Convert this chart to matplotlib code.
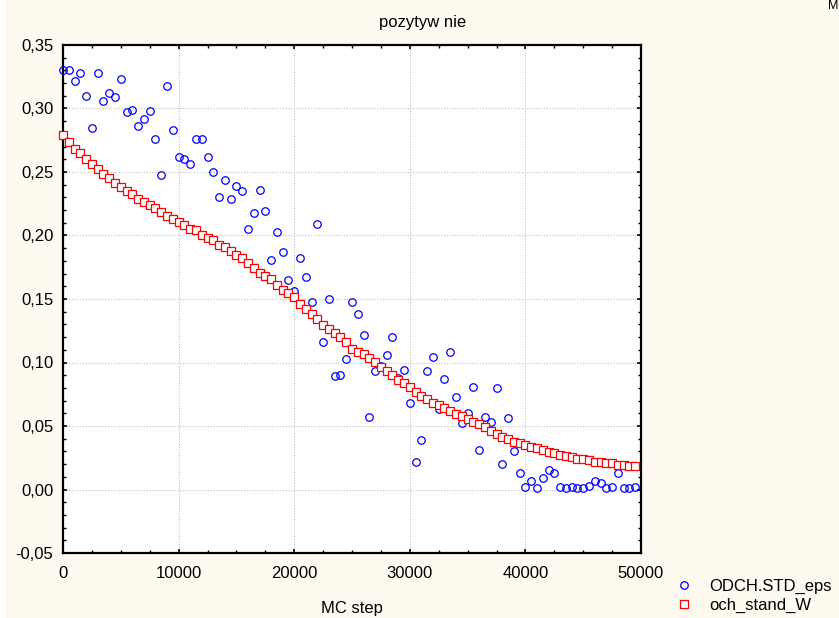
import numpy as np
import matplotlib
matplotlib.use("Agg")
import matplotlib.pyplot as plt
from matplotlib.ticker import MultipleLocator, FuncFormatter

plt.rcParams['font.family'] = ['Liberation Sans', 'DejaVu Sans']

# MC steps (sampled every 500 steps)
mc_step = np.arange(0, 50000, 500)

odch_std_eps = [
    0.330, 0.330, 0.322, 0.328, 0.310, 0.285, 0.328, 0.306, 0.312, 0.309,
    0.323, 0.297, 0.299, 0.286, 0.292, 0.298, 0.276, 0.248, 0.318, 0.283,
    0.262, 0.260, 0.256, 0.276, 0.276, 0.262, 0.250, 0.230, 0.244, 0.229,
    0.239, 0.235, 0.205, 0.218, 0.236, 0.219, 0.181, 0.203, 0.187, 0.165,
    0.156, 0.182, 0.167, 0.148, 0.209, 0.116, 0.150, 0.089, 0.090, 0.103,
    0.148, 0.138, 0.122, 0.057, 0.093, 0.097, 0.106, 0.120, 0.088, 0.094,
    0.068, 0.022, 0.039, 0.093, 0.104, 0.063, 0.087, 0.108, 0.073, 0.052,
    0.060, 0.081, 0.031, 0.057, 0.053, 0.080, 0.020, 0.056, 0.030, 0.013,
    0.002, 0.007, 0.001, 0.009, 0.015, 0.013, 0.002, 0.001, 0.002, 0.001,
    0.001, 0.003, 0.007, 0.005, 0.001, 0.002, 0.013, 0.001, 0.001, 0.002,
]

och_stand_w = [
    0.2790, 0.2735, 0.2685, 0.2650, 0.2600, 0.2560, 0.2523, 0.2486, 0.2450, 0.2413,
    0.2384, 0.2350, 0.2323, 0.2290, 0.2260, 0.2237, 0.2216, 0.2185, 0.2150, 0.2127,
    0.2103, 0.2080, 0.2053, 0.2040, 0.2006, 0.1977, 0.1962, 0.1925, 0.1912, 0.1875,
    0.1849, 0.1825, 0.1781, 0.1741, 0.1708, 0.1682, 0.1655, 0.1608, 0.1571, 0.1545,
    0.1513, 0.1458, 0.1423, 0.1385, 0.1345, 0.1299, 0.1267, 0.1231, 0.1197, 0.1159,
    0.1110, 0.1084, 0.1068, 0.1037, 0.1002, 0.0963, 0.0932, 0.0898, 0.0866, 0.0840,
    0.0806, 0.0767, 0.0735, 0.0709, 0.0683, 0.0662, 0.0644, 0.0617, 0.0591, 0.0578,
    0.0557, 0.0534, 0.0513, 0.0490, 0.0460, 0.0434, 0.0413, 0.0400, 0.0373, 0.0363,
    0.0347, 0.0337, 0.0324, 0.0308, 0.0298, 0.0285, 0.0271, 0.0263, 0.0255, 0.0243,
    0.0237, 0.0229, 0.0219, 0.0216, 0.0211, 0.0206, 0.0196, 0.0193, 0.0185, 0.0185,
]

W, H = 839, 618
bg = '#FFFAF0'

fig = plt.figure(figsize=(W / 100, H / 100), dpi=100, facecolor=bg)
# thin white strip on the left edge of the screenshot
fig.patches.append(plt.Rectangle((0, 0), 5 / W, 1, transform=fig.transFigure,
                                 facecolor='white', edgecolor='none', zorder=-1))

ax = fig.add_axes([63 / W, 1 - 553 / H, (641 - 63) / W, (553 - 45) / H])
ax.set_facecolor('white')

ax.plot(mc_step, odch_std_eps, linestyle='none', marker='o', markersize=5.4,
        markerfacecolor='none', markeredgecolor='#0000FF', markeredgewidth=0.9,
        label='ODCH.STD_eps', clip_on=False, zorder=3)
ax.plot(mc_step, och_stand_w, linestyle='none', marker='s', markersize=5.2,
        markerfacecolor='white', markeredgecolor='#FF0000', markeredgewidth=0.9,
        label='och_stand_W', clip_on=False, zorder=4)

ax.set_xlim(0, 50000)
ax.set_ylim(-0.05, 0.35)
ax.xaxis.set_major_locator(MultipleLocator(10000))
ax.xaxis.set_minor_locator(MultipleLocator(2500))
ax.yaxis.set_major_locator(MultipleLocator(0.05))
ax.yaxis.set_minor_locator(MultipleLocator(0.01))
ax.yaxis.set_major_formatter(FuncFormatter(lambda v, p: f"{v:.2f}".replace('.', ',').replace('-0,00', '0,00')))
ax.xaxis.set_major_formatter(FuncFormatter(lambda v, p: f"{v:.0f}"))

ax.tick_params(which='both', direction='in', top=True, right=True,
               labelsize=12, colors='black')
ax.tick_params(which='major', length=3, width=1.2)
ax.tick_params(which='minor', length=2, width=1)
ax.tick_params(axis='y', which='major', pad=7)
ax.tick_params(axis='x', which='major', pad=9)

for s in ax.spines.values():
    s.set_linewidth(1.6)
    s.set_color('black')

ax.grid(True, which='major', linestyle=(0, (1, 1.5)), color='#C0C0C0', linewidth=0.8)
ax.set_axisbelow(True)

fig.text(423 / W, 1 - 23 / H, 'pozytyw nie', ha='center', va='center', fontsize=12)
ax.set_xlabel('MC step', fontsize=12, labelpad=15)
# truncated label in the top right corner of the screenshot
fig.text(838 / W, 1 - 6 / H, 'M', ha='right', va='center', fontsize=9)

fig.legend(loc='upper left', bbox_to_anchor=(676 / W, 1 - 579 / H),
           frameon=False, fontsize=12, handlelength=1.0, handletextpad=1.0,
           labelspacing=0.25, borderpad=0, borderaxespad=0)

fig.savefig('out.png', dpi=100, facecolor=bg)
